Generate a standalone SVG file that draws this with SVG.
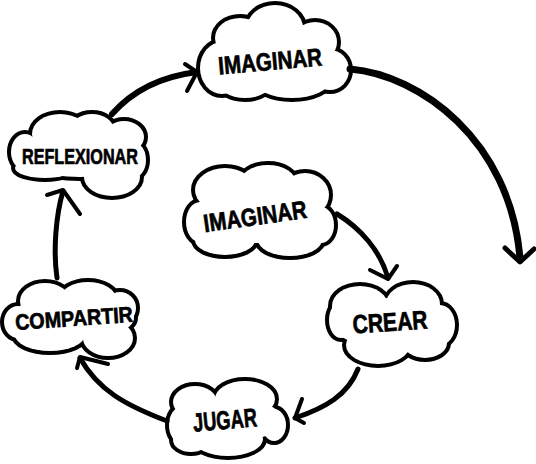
<svg xmlns="http://www.w3.org/2000/svg" xmlns:xlink="http://www.w3.org/1999/xlink" width="536" height="464" viewBox="0 0 536 464">
<style>
.st{fill:#000;stroke:#000;stroke-width:8;stroke-linejoin:round}
.fl{fill:#fff;stroke:none}
.lbl{font-family:"Liberation Sans","DejaVu Sans",sans-serif;font-weight:bold;fill:#000;stroke:#000;stroke-width:0.7;text-anchor:middle}
.con{fill:none;stroke:#000;stroke-linecap:round;stroke-linejoin:round}
</style>
<defs>
<g id="s-top">
<ellipse cx="272" cy="60" rx="62" ry="30"/><ellipse cx="222" cy="68" rx="22" ry="26"/><ellipse cx="240" cy="38" rx="25" ry="20"/><ellipse cx="275" cy="28" rx="28" ry="23"/><ellipse cx="315" cy="42" rx="22" ry="20"/><ellipse cx="330" cy="70" rx="19" ry="20"/><ellipse cx="292" cy="80" rx="38" ry="18"/><ellipse cx="245" cy="80" rx="28" ry="18"/>
</g>
<g id="s-ref">
<ellipse cx="80" cy="155" rx="65" ry="22"/><ellipse cx="60" cy="134" rx="28" ry="20"/><ellipse cx="92" cy="130" rx="22" ry="16"/><ellipse cx="124" cy="137" rx="20" ry="16"/><ellipse cx="133" cy="160" rx="13" ry="18"/><ellipse cx="112" cy="177" rx="28" ry="19"/><ellipse cx="45" cy="168" rx="30" ry="10"/><ellipse cx="25" cy="152" rx="14" ry="18"/>
</g>
<g id="s-inn">
<ellipse cx="260" cy="215" rx="65" ry="28"/><ellipse cx="225" cy="190" rx="30" ry="22"/><ellipse cx="268" cy="183" rx="28" ry="18"/><ellipse cx="305" cy="195" rx="24" ry="22"/><ellipse cx="200" cy="222" rx="14" ry="20"/><ellipse cx="321" cy="225" rx="13" ry="18"/><ellipse cx="225" cy="240" rx="30" ry="15"/><ellipse cx="290" cy="240" rx="32" ry="16"/>
</g>
<g id="s-cre">
<ellipse cx="390" cy="323" rx="58" ry="25"/><ellipse cx="360" cy="306" rx="28" ry="20"/><ellipse cx="413" cy="304" rx="27" ry="20"/><ellipse cx="440" cy="325" rx="15" ry="20"/><ellipse cx="378" cy="345" rx="32" ry="19"/><ellipse cx="425" cy="343" rx="22" ry="15"/><ellipse cx="341" cy="320" rx="12" ry="18"/>
</g>
<g id="s-com">
<ellipse cx="72" cy="318" rx="62" ry="22"/><ellipse cx="45" cy="301" rx="25" ry="18"/><ellipse cx="88" cy="299" rx="28" ry="17"/><ellipse cx="120" cy="308" rx="16" ry="16"/><ellipse cx="18" cy="322" rx="14" ry="16"/><ellipse cx="50" cy="335" rx="35" ry="16"/><ellipse cx="108" cy="338" rx="25" ry="18"/>
</g>
<g id="s-jug">
<ellipse cx="228" cy="420" rx="55" ry="22"/><ellipse cx="195" cy="402" rx="22" ry="16"/><ellipse cx="245" cy="399" rx="30" ry="18"/><ellipse cx="181" cy="425" rx="12" ry="18"/><ellipse cx="228" cy="439" rx="35" ry="17"/><ellipse cx="274" cy="425" rx="12" ry="16"/><ellipse cx="191" cy="440" rx="18" ry="12"/>
</g>
</defs>
<rect width="536" height="464" fill="#fff"/>
<g id="n-imaginar-top">
<use xlink:href="#s-top" class="st"/><use xlink:href="#s-top" class="fl"/>
<text class="lbl" x="270" y="70" font-size="25" textLength="104" lengthAdjust="spacingAndGlyphs" transform="rotate(-5 270 61)">IMAGINAR</text>
</g>
<g id="n-reflexionar">
<use xlink:href="#s-ref" class="st"/><use xlink:href="#s-ref" class="fl"/>
<text class="lbl" x="80" y="164" font-size="22" textLength="116" lengthAdjust="spacingAndGlyphs">REFLEXIONAR</text>
</g>
<g id="n-imaginar-inner">
<use xlink:href="#s-inn" class="st"/><use xlink:href="#s-inn" class="fl"/>
<text class="lbl" x="255" y="225" font-size="25" textLength="104" lengthAdjust="spacingAndGlyphs" transform="rotate(-8 255 216)">IMAGINAR</text>
</g>
<g id="n-crear">
<use xlink:href="#s-cre" class="st"/><use xlink:href="#s-cre" class="fl"/>
<text class="lbl" x="390" y="331" font-size="26" textLength="75" lengthAdjust="spacingAndGlyphs" transform="rotate(-4 390 322)">CREAR</text>
</g>
<g id="n-compartir">
<use xlink:href="#s-com" class="st"/><use xlink:href="#s-com" class="fl"/>
<text class="lbl" x="74" y="326" font-size="22" textLength="118" lengthAdjust="spacingAndGlyphs" transform="rotate(-4 74 319)">COMPARTIR</text>
</g>
<g id="n-jugar">
<use xlink:href="#s-jug" class="st"/><use xlink:href="#s-jug" class="fl"/>
<text class="lbl" x="225" y="429" font-size="26" textLength="64" lengthAdjust="spacingAndGlyphs" transform="rotate(-5 225 421)">JUGAR</text>
</g>
<g id="connectors" class="con">
<path d="M 350 69 C 420 75 510 140 520 258" stroke-width="7"/>
<path d="M 505 248 L 520 262 L 534 249" stroke-width="5"/>
<path d="M 112 114 C 135 88 165 76 197 72" stroke-width="6"/>
<path d="M 185 64 L 197 72 L 187 91" stroke-width="4"/>
<path d="M 337 214 C 360 228 380 250 388 278" stroke-width="5"/>
<path d="M 370 270 L 388 279 L 397 266" stroke-width="4"/>
<path d="M 358 369 C 348 395 325 408 295 418" stroke-width="5"/>
<path d="M 302 399 L 295 418 L 304 423" stroke-width="4"/>
<path d="M 167 421 C 125 405 98 390 80 358" stroke-width="5"/>
<path d="M 77 368 L 80 357 L 108 364" stroke-width="4"/>
<path d="M 57 278 C 53 250 56 215 63 191" stroke-width="5"/>
<path d="M 47 195 L 63 190 L 80 214" stroke-width="4"/>
</g>
</svg>
